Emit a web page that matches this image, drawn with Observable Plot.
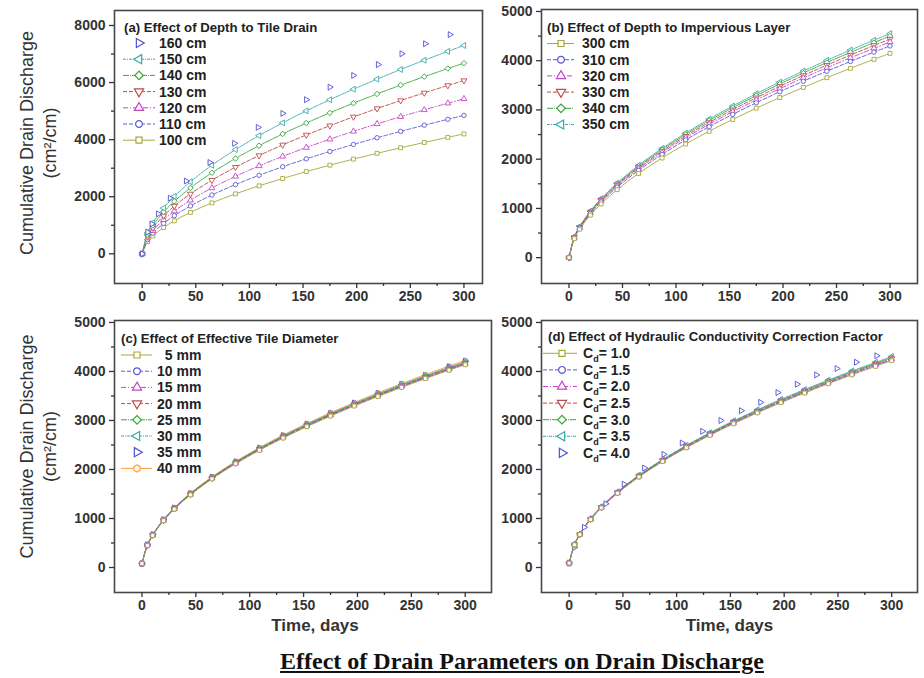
<!DOCTYPE html>
<html><head><meta charset="utf-8">
<script src="https://cdn.jsdelivr.net/npm/d3@7"></script>
<script src="https://cdn.jsdelivr.net/npm/@observablehq/plot@0.6"></script>
<style>
body{margin:0;background:#fff;}
#wrap{position:relative;width:924px;height:678px;background:#fff;overflow:hidden;font-family:"Liberation Sans",Arial,sans-serif;}
#wrap > svg{position:absolute;overflow:visible;}
#title{position:absolute;left:172px;width:700px;top:648px;text-align:center;font-family:"Liberation Serif","Times New Roman",serif;font-weight:bold;font-size:24px;text-decoration:underline;color:#111;line-height:26px;}
</style></head>
<body><div id="wrap"><div id="title">Effect of Drain Parameters on Drain Discharge</div></div>
<script>
// ---------- DATA ----------
const days = [0,5,10,20,30,45,65,87,109,131,153,175,197,219,241,263,285,300];
const xTicks = [0,50,100,150,200,250,300];
const xMinor = [25,75,125,175,225,275];

// (a) Effect of Depth to Tile Drain
const aTitle = "(a) Effect of Depth to Tile Drain";
const aNames = ["160 cm","150 cm","140 cm","130 cm","120 cm","110 cm","100 cm"];
const a160Days = [0,5,9,15,26,41,63,86,108,131,153,175,197,220,242,264,287];
const a160 = [0,760,1050,1400,1950,2550,3200,3870,4430,4920,5400,5840,6250,6630,7010,7360,7680];
const a150 = [0,737,1087,1602,2011,2524,3101,3650,4141,4590,5007,5398,5768,6120,6458,6782,7093,7300];
const a140 = [0,675,995,1466,1840,2309,2838,3340,3789,4200,4582,4939,5279,5601,5909,6206,6491,6680];
const a130 = [0,613,904,1332,1672,2098,2579,3035,3443,3817,4163,4488,4797,5089,5370,5639,5898,6070];
const a120 = [0,548,809,1191,1496,1877,2307,2715,3080,3414,3724,4015,4291,4553,4803,5044,5276,5430];
const a110 = [0,490,722,1064,1336,1677,2060,2425,2751,3050,3327,3586,3832,4066,4290,4506,4713,4850];
const a100 = [0,424,625,921,1157,1452,1784,2100,2382,2641,2881,3105,3319,3521,3715,3902,4081,4200];
const aYTicks = [0,2000,4000,6000,8000];
const aYMinor = [1000,3000,5000,7000];

// (b) Effect of Depth to Impervious Layer
const bTitle = "(b) Effect of Depth to Impervious Layer";
const bNames = ["300 cm","310 cm","320 cm","330 cm","340 cm","350 cm"];
const b300 = [0,386,577,863,1091,1381,1710,2024,2307,2567,2808,3036,3252,3458,3655,3845,4028,4150];
const b310 = [0,400,598,894,1131,1431,1772,2097,2390,2660,2910,3145,3369,3583,3787,3984,4174,4300];
const b320 = [0,407,609,911,1152,1458,1805,2136,2434,2709,2964,3204,3432,3649,3857,4058,4252,4380];
const b330 = [0,413,618,923,1168,1478,1829,2165,2468,2746,3005,3248,3479,3699,3910,4114,4310,4440];
const b340 = [0,419,626,936,1184,1498,1854,2195,2501,2783,3045,3292,3526,3749,3963,4169,4368,4500];
const b350 = [0,423,633,946,1197,1514,1875,2219,2529,2814,3079,3328,3565,3791,4007,4216,4417,4550];
const yTicks5 = [0,1000,2000,3000,4000,5000];
const yMinor5 = [500,1500,2500,3500,4500];

// (c) Effect of Effective Tile Diameter
const cTitle = "(c) Effect of Effective Tile Diameter";
const cNames = ["5 mm","10 mm","15 mm","20 mm","25 mm","30 mm","35 mm","40 mm"];
const c5  = [80,450,655,955,1190,1482,1808,2117,2392,2642,2873,3090,3295,3489,3675,3853,4024,4138];
const c10 = [80,452,658,959,1195,1488,1815,2125,2401,2652,2884,3101,3307,3501,3688,3866,4037,4151];
const c15 = [80,455,661,962,1199,1492,1820,2131,2407,2659,2891,3109,3315,3510,3697,3875,4046,4160];
const c20 = [80,457,664,966,1203,1497,1826,2137,2414,2666,2899,3117,3323,3518,3705,3884,4056,4170];
const c25 = [80,459,667,970,1208,1503,1833,2145,2423,2676,2910,3129,3336,3531,3719,3899,4071,4186];
const c30 = [80,461,669,973,1212,1508,1839,2152,2431,2685,2920,3139,3347,3543,3732,3912,4085,4200];
const c35 = [80,462,671,976,1216,1512,1844,2158,2438,2693,2928,3148,3356,3553,3742,3923,4097,4212];
const c40 = [80,464,674,980,1220,1518,1851,2166,2447,2702,2938,3159,3368,3565,3755,3937,4111,4227];

// (d) Effect of Hydraulic Conductivity Correction Factor
const dTitle = "(d) Effect of Hydraulic Conductivity Correction Factor";
const dNames = ["1.0","1.5","2.0","2.5","3.0","3.5","4.0"];
const d10 = [90,462,672,978,1218,1515,1848,2163,2443,2698,2934,3155,3363,3560,3750,3931,4105,4220];
const d15 = [90,464,674,981,1222,1520,1855,2171,2452,2708,2945,3166,3375,3573,3763,3945,4120,4235];
const d20 = [90,466,677,985,1226,1526,1861,2178,2460,2717,2955,3177,3387,3586,3776,3959,4134,4250];
const d25 = [90,467,679,988,1231,1531,1868,2186,2469,2727,2966,3188,3399,3598,3790,3973,4149,4265];
const d30 = [90,470,682,993,1236,1538,1876,2196,2480,2739,2979,3203,3415,3615,3807,3991,4168,4285];
const d35 = [90,472,686,997,1242,1546,1885,2206,2492,2752,2993,3218,3431,3632,3825,4010,4187,4305];
const d40Days = [0,5,14,34,51,70,88,105,124,141,160,178,194,212,230,249,267,286];
const d40 = [90,410,820,1300,1700,2030,2310,2540,2780,3000,3200,3370,3570,3740,3930,4060,4190,4320];

const yLabel = "Cumulative Drain Discharge\n(cm\u00b2/cm)";
const xLabel = "Time, days";

// ---------- STYLES ----------
const STY = {
  sq: {symbol:"square",   rotate:0,   color:"#a8a83c", dash:null},
  ci: {symbol:"circle",   rotate:0,   color:"#5a5ad2", dash:"4,2"},
  up: {symbol:"triangle", rotate:0,   color:"#c446c4", dash:"5,2,1,2"},
  dn: {symbol:"triangle", rotate:180, color:"#bc4c4c", dash:"4,2"},
  di: {symbol:"square",   rotate:45,  color:"#3ca63c", dash:"6,1,1,1"},
  le: {symbol:"triangle", rotate:-90, color:"#3aaaaa", dash:"3,1,1,1"},
  ri: {symbol:"triangle", rotate:90,  color:"#5050d8", dash:null},
  hx: {symbol:"hexagon",  rotate:0,   color:"#ff9c34", dash:null}
};

const panels = [
  { title:aTitle, left:0, top:0, width:490, height:320, fl:114, fr:482, ft:10, fb:283,
    xDomain:[-25.8,317.3], yDomain:[-1040,8525], yTicks:aYTicks, yMinor:aYMinor, yLab:true, xLab:false, yLabDy:-4,
    series:[
      {name:aNames[0], x:a160Days, y:a160, k:"ri", line:false},
      {name:aNames[1], x:days, y:a150, k:"le", line:true},
      {name:aNames[2], x:days, y:a140, k:"di", line:true},
      {name:aNames[3], x:days, y:a130, k:"dn", line:true},
      {name:aNames[4], x:days, y:a120, k:"up", line:true},
      {name:aNames[5], x:days, y:a110, k:"ci", line:true},
      {name:aNames[6], x:days, y:a100, k:"sq", line:true}],
    leg:{tx:124, ty:27, ry:43, step:16.2, l1:123, l2:155, mx:139, txx:159} },
  { title:bTitle, left:490, top:0, width:434, height:320, fl:541, fr:917, ft:9, fb:283,
    xDomain:[-25.7,325.7], yDomain:[-525,5040], yTicks:yTicks5, yMinor:yMinor5, yLab:false, xLab:false,
    series:[
      {name:bNames[0], x:days, y:b300, k:"sq", line:true},
      {name:bNames[1], x:days, y:b310, k:"ci", line:true},
      {name:bNames[2], x:days, y:b320, k:"up", line:true},
      {name:bNames[3], x:days, y:b330, k:"dn", line:true},
      {name:bNames[4], x:days, y:b340, k:"di", line:true},
      {name:bNames[5], x:days, y:b350, k:"le", line:true}],
    leg:{tx:547, ty:27, ry:43.5, step:16.2, l1:547, l2:574, mx:561, txx:582} },
  { title:cTitle, left:0, top:300, width:500, height:350, fl:114, fr:491, ft:320, fb:592,
    xDomain:[-25.5,324.4], yDomain:[-510,5040], yTicks:yTicks5, yMinor:yMinor5, yLab:true, xLab:true, yLabDy:-10, xLabDx:12,
    series:[
      {name:cNames[0], x:days, y:c5,  k:"sq", line:true},
      {name:cNames[1], x:days, y:c10, k:"ci", line:true},
      {name:cNames[2], x:days, y:c15, k:"up", line:true},
      {name:cNames[3], x:days, y:c20, k:"dn", line:true},
      {name:cNames[4], x:days, y:c25, k:"di", line:true},
      {name:cNames[5], x:days, y:c30, k:"le", line:true},
      {name:cNames[6], x:days, y:c35, k:"ri", line:false},
      {name:cNames[7], x:days, y:c40, k:"hx", line:true}],
    leg:{tx:121, ty:338, ry:355, step:16.2, l1:121, l2:152, mx:137, txx:157, pad:true} },
  { title:dTitle, left:500, top:300, width:424, height:350, fl:541, fr:917, ft:320, fb:592,
    xDomain:[-25.7,324], yDomain:[-510,5040], yTicks:yTicks5, yMinor:yMinor5, yLab:false, xLab:true, xLabDx:0,
    series:[
      {name:dNames[0], x:days, y:d10, k:"sq", line:true},
      {name:dNames[1], x:days, y:d15, k:"ci", line:true},
      {name:dNames[2], x:days, y:d20, k:"up", line:true},
      {name:dNames[3], x:days, y:d25, k:"dn", line:true},
      {name:dNames[4], x:days, y:d30, k:"di", line:true},
      {name:dNames[5], x:days, y:d35, k:"le", line:true},
      {name:dNames[6], x:d40Days, y:d40, k:"ri", line:false}],
    leg:{tx:548, ty:336, ry:353.3, step:16.6, l1:543, l2:577, mx:562, txx:583, cd:true} }
];

const wrap = document.getElementById("wrap");
const fmt = d3.format("d");

for (const p of panels) {
  const marks = [];
  const rowsOf = s => s.x.map((d,i)=>({x:d, y:s.y[i]}));
  for (const s of [...p.series].reverse()) {
    const st = STY[s.k];
    if (s.line) marks.push(Plot.line(rowsOf(s), {x:"x", y:"y", stroke:st.color, strokeWidth:0.9, strokeDasharray:st.dash || undefined, curve:"catmull-rom"}));
  }
  for (const s of [...p.series].reverse()) {
    const st = STY[s.k];
    marks.push(Plot.dot(rowsOf(s), {x:"x", y:"y", symbol:st.symbol, rotate:st.rotate, r:2.2, stroke:st.color, fill:"white", strokeWidth:0.9}));
  }
  marks.push(Plot.frame({stroke:"#474747", strokeWidth:1.6}));
  marks.push(Plot.axisX(xTicks, {tickSize:5, tickPadding:3, tickFormat:fmt, label:null, strokeWidth:1.3}));
  marks.push(Plot.axisX(xMinor, {tickSize:3, tickFormat:()=>"", label:null, strokeWidth:1.3}));
  marks.push(Plot.axisY(p.yTicks, {tickSize:5, tickPadding:4, tickFormat:fmt, label:null, strokeWidth:1.3}));
  marks.push(Plot.axisY(p.yMinor, {tickSize:3, tickFormat:()=>"", label:null, strokeWidth:1.3}));
  if (p.yLab) marks.push(Plot.text([yLabel], {text:d=>d, frameAnchor:"left", textAnchor:"middle", lineAnchor:"middle", dx:-77, dy:p.yLabDy, rotate:-90, fontSize:18, fontWeight:"normal", fill:"#333", lineHeight:1.25}));
  if (p.xLab) marks.push(Plot.text([xLabel], {text:d=>d, frameAnchor:"bottom", textAnchor:"middle", dx:p.xLabDx, dy:38, fontSize:17, fontWeight:"bold", fill:"#333"}));

  const svg = Plot.plot({
    width:p.width, height:p.height,
    marginLeft:p.fl - p.left, marginRight:p.left + p.width - p.fr,
    marginTop:p.ft - p.top, marginBottom:p.top + p.height - p.fb,
    x:{domain:p.xDomain, label:null},
    y:{domain:p.yDomain, label:null},
    style:{fontFamily:'"Liberation Sans",Arial,sans-serif', fontSize:"14px", fontWeight:"bold", color:"#333", background:"transparent", overflow:"visible"},
    marks
  });
  svg.style.left = p.left + "px";
  svg.style.top = p.top + "px";
  wrap.appendChild(svg);
}

// ---------- LEGENDS (overlay) ----------
const ov = d3.select(wrap).append("svg").attr("width",924).attr("height",678)
  .style("left","0px").style("top","0px").style("pointer-events","none")
  .style("font-family",'"Liberation Sans",Arial,sans-serif');

function symPath(kind, r) {
  const area = Math.PI*r*r;
  if (kind === "square") return d3.symbol(d3.symbolSquare, area)();
  if (kind === "circle") return d3.symbol(d3.symbolCircle, area)();
  if (kind === "triangle") return d3.symbol(d3.symbolTriangle, area)();
  const pts = d3.range(6).map(i => { const a = Math.PI/3*i - Math.PI/2; return [r*1.05*Math.cos(a), r*1.05*Math.sin(a)]; });
  return "M" + pts.map(q=>q.join(",")).join("L") + "Z";
}

for (const p of panels) {
  const L = p.leg;
  ov.append("text").attr("x",L.tx).attr("y",L.ty).attr("dy","0.35em")
    .attr("font-size",13.2).attr("font-weight","bold").attr("fill","#222").text(p.title);
  p.series.forEach((s,i) => {
    const st = STY[s.k];
    const y = L.ry + i*L.step;
    if (s.line) ov.append("line").attr("x1",L.l1).attr("x2",L.l2).attr("y1",y).attr("y2",y)
      .attr("stroke",st.color).attr("stroke-width",1).attr("stroke-dasharray",st.dash || null);
    ov.append("path").attr("d",symPath(st.symbol, 3.4))
      .attr("transform",`translate(${L.mx},${y}) rotate(${st.rotate})`)
      .attr("fill","white").attr("stroke",st.color).attr("stroke-width",1.2);
    const t = ov.append("text").attr("x",L.txx).attr("y",y).attr("dy","0.35em")
      .attr("font-size",14).attr("font-weight","bold").attr("fill","#222");
    if (L.cd) {
      t.append("tspan").text("C");
      t.append("tspan").attr("dy",4).attr("font-size",9).text("d");
      t.append("tspan").attr("dy",-4).text("= " + s.name);
    } else {
      const padded = (L.pad && s.name.length < 5) ? "\u2007" + s.name : s.name;
      t.text(padded);
    }
  });
}
</script>
</body></html>
